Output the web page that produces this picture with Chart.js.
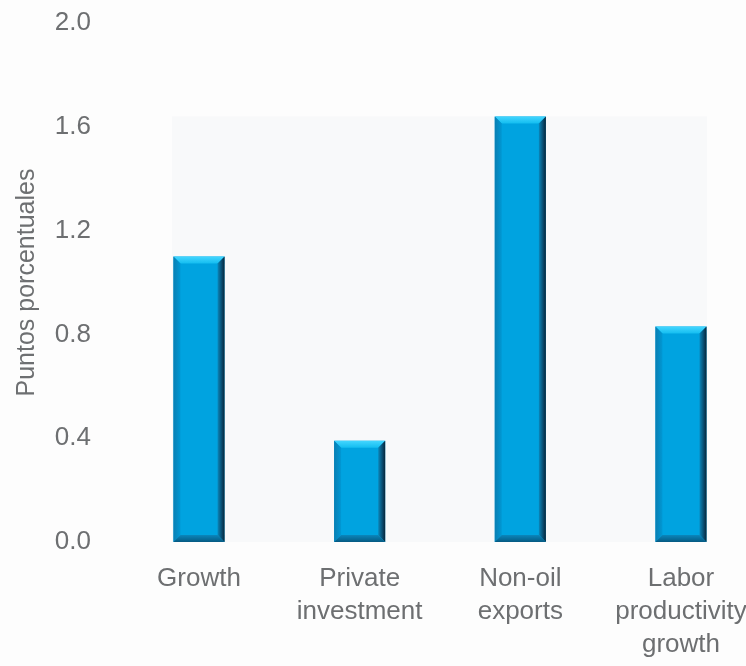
<!DOCTYPE html>
<html>
<head>
<meta charset="utf-8">
<style>
  html, body { margin: 0; padding: 0; background: #fdfdfd; }
  #chart-wrap { width: 746px; height: 666px; }
</style>
</head>
<body>
<div id="chart-wrap"><canvas id="bar-canvas"></canvas></div>
<script src="https://cdn.jsdelivr.net/npm/chart.js@4.4.1/dist/chart.umd.min.js"></script>
<script>
  // Data
  let categories = [
    ["Growth"],
    ["Private", "investment"],
    ["Non-oil", "exports"],
    ["Labor", "productivity", "growth"]
  ];
  let values = [1.10, 0.39, 1.64, 0.83];
  let y_ticks = [0.0, 0.4, 0.8, 1.2, 1.6, 2.0];

  let font_family = "'Liberation Sans Narrow', 'Arial Narrow', 'Liberation Sans', Arial, sans-serif";
  let text_color = "#6d6f71";

  // Light grey plot panel, from the zero line up to the tallest bar
  let panel_plugin = {
    id: 'panel',
    beforeDatasetsDraw(chart) {
      let ctx = chart.ctx;
      let xs = chart.scales.x;
      let ys = chart.scales.y;
      let top = ys.getPixelForValue(Math.max(...values));
      let bottom = ys.getPixelForValue(0);
      ctx.save();
      ctx.fillStyle = "#f8f9fa";
      ctx.fillRect(xs.left, top, xs.right - xs.left, bottom - top);
      ctx.restore();
    }
  };

  // Bevelled look on each bar
  let bevel_plugin = {
    id: 'bevel',
    afterDatasetsDraw(chart) {
      let ctx = chart.ctx;
      let meta = chart.getDatasetMeta(0);
      meta.data.forEach(function(bar) {
        let l = bar.x - bar.width / 2;
        let r = bar.x + bar.width / 2;
        let t = bar.y;
        let b = bar.base;
        let e = 7;
        ctx.save();
        // top
        let g = ctx.createLinearGradient(0, t, 0, t + e);
        g.addColorStop(0, "#44d6ff");
        g.addColorStop(1, "#13bdf0");
        ctx.fillStyle = g;
        ctx.beginPath();
        ctx.moveTo(l, t); ctx.lineTo(r, t); ctx.lineTo(r - e, t + e); ctx.lineTo(l + e, t + e);
        ctx.closePath(); ctx.fill();
        // left
        g = ctx.createLinearGradient(l, 0, l + e, 0);
        g.addColorStop(0, "#0a7fb3");
        g.addColorStop(1, "#0098d4");
        ctx.fillStyle = g;
        ctx.beginPath();
        ctx.moveTo(l, t); ctx.lineTo(l + e, t + e); ctx.lineTo(l + e, b - e); ctx.lineTo(l, b);
        ctx.closePath(); ctx.fill();
        // right
        g = ctx.createLinearGradient(r - e, 0, r, 0);
        g.addColorStop(0, "#0a87bb");
        g.addColorStop(0.6, "#0a4b6e");
        g.addColorStop(1, "#06263a");
        ctx.fillStyle = g;
        ctx.beginPath();
        ctx.moveTo(r, t); ctx.lineTo(r, b); ctx.lineTo(r - e, b - e); ctx.lineTo(r - e, t + e);
        ctx.closePath(); ctx.fill();
        // bottom
        g = ctx.createLinearGradient(0, b - e, 0, b);
        g.addColorStop(0, "#0a86bc");
        g.addColorStop(1, "#065a82");
        ctx.fillStyle = g;
        ctx.beginPath();
        ctx.moveTo(l, b); ctx.lineTo(r, b); ctx.lineTo(r - e, b - e); ctx.lineTo(l + e, b - e);
        ctx.closePath(); ctx.fill();
        ctx.restore();
      });
    }
  };

  let bar_ctx = document.getElementById("bar-canvas").getContext("2d");
  let bar_chart = new Chart(bar_ctx, {
    type: 'bar',
    data: {
      datasets: [{
        data: values.map((v, i) => ({x: i, y: v})),
        backgroundColor: "#00a3e0",
        borderWidth: 0,
        barPercentage: 0.318,
        categoryPercentage: 1
      }]
    },
    plugins: [panel_plugin, bevel_plugin],
    options: {
      responsive: true,
      maintainAspectRatio: false,
      animation: false,
      layout: { padding: { top: 23, right: 39, bottom: 0, left: 0 } },
      plugins: {
        legend: { display: false },
        tooltip: { enabled: false }
      },
      scales: {
        x: {
          type: 'linear',
          offset: false,
          min: -0.168,
          max: 3.162,
          grid: { display: false, drawTicks: false },
          border: { display: false },
          afterBuildTicks: function(scale) {
            scale.ticks = categories.map((c, i) => ({value: i}));
          },
          afterFit: function(scale) {
            scale.height = 124;
            // labels may hang over the edges
            scale.paddingLeft = 0;
            scale.paddingRight = 0;
          },
          ticks: {
            padding: 20,
            maxRotation: 0,
            autoSkip: false,
            color: text_color,
            font: { family: font_family, size: 26, lineHeight: 1.27 },
            callback: function(value) { return categories[value]; }
          }
        },
        y: {
          min: 0,
          max: 2,
          grid: { display: false, drawTicks: false },
          border: { display: false },
          afterBuildTicks: function(scale) {
            scale.ticks = y_ticks.map(v => ({value: v}));
          },
          afterFit: function(scale) {
            scale.width = 172;
            // big tick padding should not push the plot down
            scale.paddingTop = 0;
            scale.paddingBottom = 0;
          },
          title: {
            display: true,
            text: "Puntos porcentuales",
            color: text_color,
            font: { family: font_family, size: 25 },
            padding: { top: 12, bottom: 0 }
          },
          ticks: {
            padding: 81,
            color: text_color,
            font: { family: font_family, size: 26 },
            callback: function(value) { return value.toFixed(1); }
          }
        }
      }
    }
  });
</script>
</body>
</html>
